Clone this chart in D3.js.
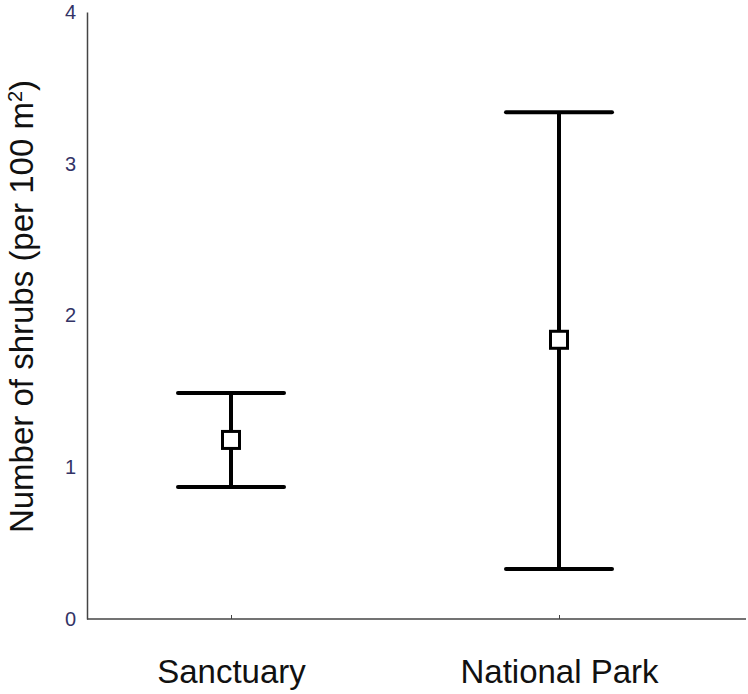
<!DOCTYPE html>
<html>
<head>
<meta charset="utf-8">
<script src="https://cdn.jsdelivr.net/npm/d3@7"></script>
<style>
  html, body { margin: 0; padding: 0; background: #fff; }
  svg { display: block; }
</style>
</head>
<body>
<svg id="chart" width="748" height="694"></svg>
<script>
// data
const sites = ["Sanctuary", "National Park"];
const means = [1.18, 1.84];
const upper = [1.49, 3.34];
const lower = [0.87, 0.33];
const yTicks = [0, 1, 2, 3, 4];

const svg = d3.select("#chart");
const width = +svg.attr("width");
const height = +svg.attr("height");
const margin = { top: 12, right: 2, bottom: 75, left: 87 };
const inner_width = width - margin.left - margin.right;
const inner_height = height - margin.top - margin.bottom;

const g = svg.append("g")
  .attr("transform", `translate(${margin.left},${margin.top})`);

const x = d3.scalePoint()
  .domain(sites)
  .range([144, 472]);

const y = d3.scaleLinear()
  .domain([0, 4])
  .range([inner_height, 0]);

// axes
const yAxis = g.append("g")
  .call(d3.axisLeft(y).tickValues(yTicks).tickSize(0).tickPadding(11).tickFormat(d3.format("d")));
yAxis.select(".domain").attr("stroke", "#444").attr("stroke-width", 1.5);
yAxis.selectAll("text")
  .attr("fill", "#333366")
  .style("font-family", "Arial, 'Liberation Sans', sans-serif")
  .style("font-size", "20px");

const xAxis = g.append("g")
  .attr("transform", `translate(0,${inner_height})`)
  .call(d3.axisBottom(x).tickSize(-4).tickPadding(0).tickSizeOuter(0));
xAxis.select(".domain").attr("stroke", "#444").attr("stroke-width", 1.5)
  .attr("d", `M0,0H${inner_width}`);
xAxis.selectAll("line").attr("stroke", "#444");
xAxis.selectAll("text")
  .attr("y", 0)
  .attr("dy", 64)
  .attr("fill", "#111")
  .style("font-family", "Arial, 'Liberation Sans', sans-serif")
  .style("font-size", "33px");

// error bars
const capHalf = 53;
const rows = sites.map((s, i) => ({ site: s, mean: means[i], hi: upper[i], lo: lower[i] }));

const bars = g.selectAll(".bar")
  .data(rows)
  .join("g")
  .attr("class", "bar");

bars.append("line")
  .attr("x1", d => x(d.site)).attr("x2", d => x(d.site))
  .attr("y1", d => y(d.hi)).attr("y2", d => y(d.lo))
  .attr("stroke", "#000").attr("stroke-width", 4);

bars.append("line")
  .attr("x1", d => x(d.site) - capHalf).attr("x2", d => x(d.site) + capHalf)
  .attr("y1", d => y(d.hi)).attr("y2", d => y(d.hi))
  .attr("stroke", "#000").attr("stroke-width", 4).attr("stroke-linecap", "round");

bars.append("line")
  .attr("x1", d => x(d.site) - capHalf).attr("x2", d => x(d.site) + capHalf)
  .attr("y1", d => y(d.lo)).attr("y2", d => y(d.lo))
  .attr("stroke", "#000").attr("stroke-width", 4).attr("stroke-linecap", "round");

bars.append("rect")
  .attr("x", d => x(d.site) - 8.5)
  .attr("y", d => y(d.mean) - 8.5)
  .attr("width", 17).attr("height", 17)
  .attr("fill", "#fff").attr("stroke", "#000").attr("stroke-width", 3);

// y title
const title = svg.append("text")
  .attr("transform", `translate(33,${margin.top + inner_height / 2 - 9}) rotate(-90)`)
  .attr("text-anchor", "middle")
  .attr("fill", "#111")
  .style("font-family", "Arial, 'Liberation Sans', sans-serif")
  .style("font-size", "33px");
title.append("tspan").text("Number of shrubs (per 100 m");
title.append("tspan").attr("baseline-shift", "super").style("font-size", "20px").text("2");
title.append("tspan").text(")");
</script>
</body>
</html>
